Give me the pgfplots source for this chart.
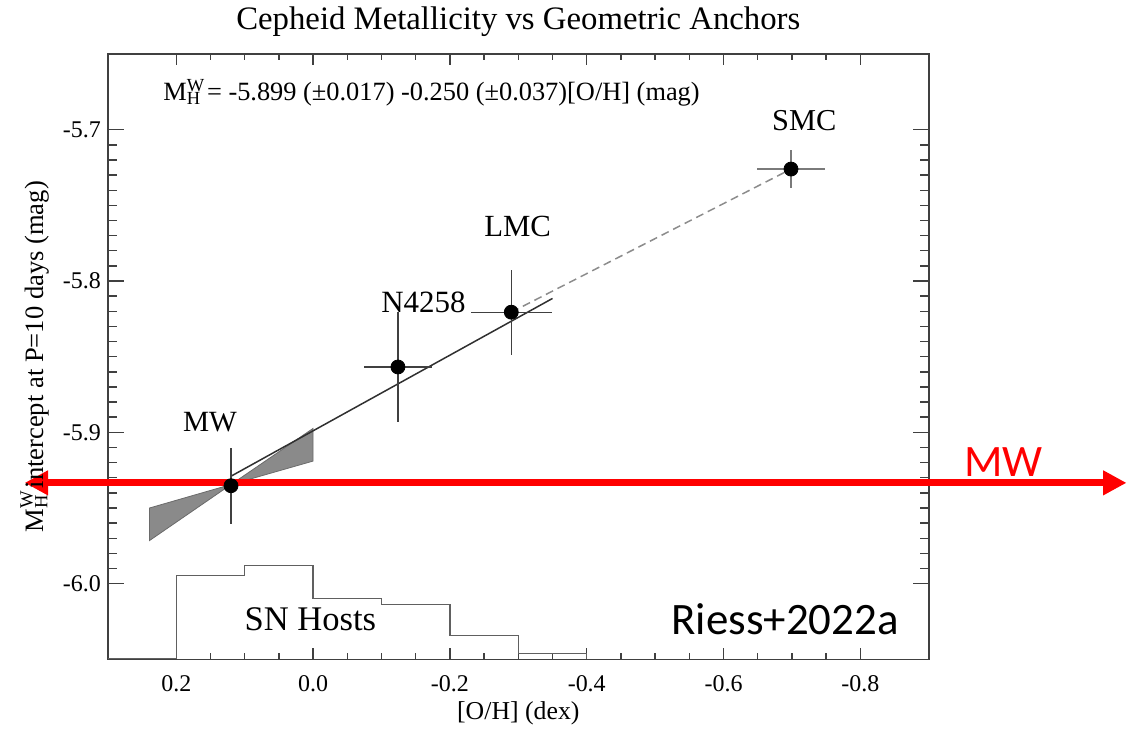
\documentclass[border=0pt]{standalone}
\usepackage{fontspec}
\setmainfont{Liberation Serif}
\newfontfamily\calibri{Carlito}
\usepackage{pgfplots}
\pgfplotsset{compat=1.18}
\usetikzlibrary{arrows.meta}
\definecolor{axgray}{HTML}{404040}
\definecolor{histgray}{HTML}{606060}
\definecolor{bowfill}{HTML}{8A8A8A}
\definecolor{bowedge}{HTML}{6A6A6A}
\definecolor{dashgray}{HTML}{8C8C8C}
\definecolor{fitcol}{HTML}{303030}
\definecolor{smcbar}{HTML}{7A7A7A}
\newcommand{\MWH}{M\rlap{\textsuperscript{W}}\textsubscript{H}\kern0.22em}
\begin{document}
\begin{tikzpicture}
\begin{axis}[
  scale only axis, width=411pt, height=303pt,
  xmin=-0.9, xmax=0.3, x dir=reverse,
  ymin=-6.05, ymax=-5.65,
  clip=false,
  axis line style={axgray, line width=0.75pt},
  xtick={0.2,0,-0.2,-0.4,-0.6,-0.8},
  minor x tick num=3,
  ytick={-6.0,-5.9,-5.8,-5.7},
  minor y tick num=9,
  tick align=inside,
  tick style={axgray, line width=0.7pt},
  major tick length=8pt, minor tick length=4.5pt,
  xtick style={/pgfplots/major tick length=5.7pt, /pgfplots/minor tick length=3pt},
  ticklabel style={font=\fontsize{12}{14}\selectfont},
  /pgf/number format/assume math mode=true,
  xticklabel style={/pgf/number format/fixed, /pgf/number format/fixed zerofill, /pgf/number format/precision=1, yshift=-4.5pt},
  yticklabel style={/pgf/number format/fixed, /pgf/number format/fixed zerofill, /pgf/number format/precision=1},
  title={Cepheid Metallicity vs Geometric Anchors},
  title style={font=\fontsize{16.4}{19}\selectfont, at={(axis description cs:0.5,1.021)}, anchor=base},
  xlabel={[O/H] (dex)},
  xlabel style={font=\fontsize{12.9}{15}\selectfont, at={(axis description cs:0.5,-0.099)}, anchor=base},
  ylabel={\MWH intercept at P=10 days (mag)},
  ylabel style={font=\fontsize{13.3}{15}\selectfont, at={(axis description cs:-0.079,0.5)}, anchor=base},
]
% bounding box of the whole picture
\path (axis cs:0.4577,-5.617) rectangle (axis cs:-1.192,-6.0942);

% SN host histogram
\addplot[const plot, histgray, line width=0.7pt] coordinates {
  (0.3,-6.0495) (0.2,-5.9945) (0.1,-5.9879) (0.0,-6.0099) (-0.1,-6.0137)
  (-0.2,-6.0341) (-0.3,-6.0462) (-0.4,-6.0495)};

% uncertainty bowtie
\addplot[fill=bowfill, draw=bowedge, line width=0.4pt] coordinates {
  (0.239,-5.950) (0.12,-5.9345) (0,-5.919) (0,-5.8974) (0.12,-5.9345) (0.239,-5.9715)} -- cycle;

% fit line
\addplot[fitcol, line width=0.75pt] coordinates {(0.12,-5.929) (-0.35,-5.8115)};
% dashed extension to SMC
\addplot[dashgray, line width=0.75pt, dash pattern=on 4pt off 2.5pt] coordinates {(-0.2897,-5.8206) (-0.6986,-5.726)};

% anchors
\addplot[only marks, mark=*, mark size=3.5pt, black,
  error bars/.cd, x dir=both, x explicit, y dir=both, y explicit, error mark=none,
  error bar style={axgray, line width=0.65pt}] coordinates {
  (0.12,-5.9353) +- (0,0.025)
  (-0.124,-5.8568) +- (0.05,0.0363)
  (-0.2897,-5.8206) +- (0.0595,0.028)};
\addplot[only marks, mark=*, mark size=3.5pt, black,
  error bars/.cd, x dir=both, x explicit, y dir=both, y explicit, error mark=none,
  error bar style={smcbar, line width=0.65pt}] coordinates {
  (-0.6986,-5.726) +- (0.05,0.0125)};

% labels
\node[font=\fontsize{14.7}{17}\selectfont, anchor=base] at (axis cs:0.1507,-5.8997) {MW};
\node[font=\fontsize{15.5}{18}\selectfont, anchor=base] at (axis cs:-0.1613,-5.8205) {N4258};
\node[font=\fontsize{15.4}{18}\selectfont, anchor=base] at (axis cs:-0.299,-5.7703) {LMC};
\node[font=\fontsize{15.2}{18}\selectfont, anchor=base] at (axis cs:-0.718,-5.7002) {SMC};
\node[font=\fontsize{17.3}{20}\selectfont, anchor=base] at (axis cs:0.004,-6.0309) {SN Hosts};
\node[font=\fontsize{13.2}{15}\selectfont, anchor=base west, inner sep=0pt] at (axis cs:0.2193,-5.6808)
  {\MWH= -5.899 (±0.017) -0.250 (±0.037)[O/H] (mag)};
\node[font=\calibri\fontsize{22.5}{26}\selectfont, anchor=base west, inner sep=0pt] at (axis cs:-0.5234,-6.0333) {Riess+2022a};

% red MW marker
\addplot[red, line width=3.5pt, {Triangle[length=11.7pt,width=11.7pt]}-{Triangle[length=11.7pt,width=11.7pt]}]
  coordinates {(0.4216,-5.9334) (-1.189,-5.9334)};
\node[font=\calibri\fontsize{22.5}{26}\selectfont, text=red, anchor=base west, inner sep=0pt] at (axis cs:-0.9511,-5.9294) {MW};
\end{axis}
\end{tikzpicture}
\end{document}
